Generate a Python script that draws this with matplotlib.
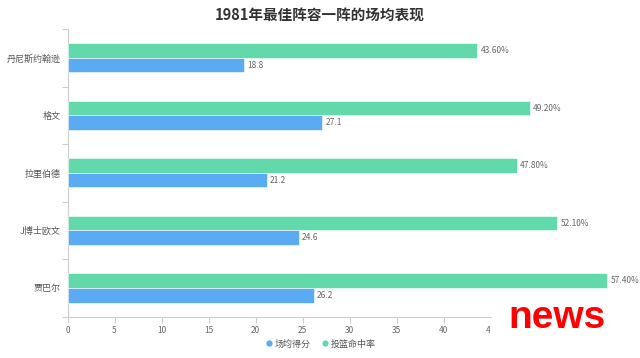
import numpy as np
import matplotlib
matplotlib.use('Agg')
import matplotlib.pyplot as plt
from matplotlib.lines import Line2D
from matplotlib.patches import Rectangle

plt.rcParams['font.family'] = ['Noto Sans CJK SC', 'DejaVu Sans']

# data, bottom to top
players = ['贾巴尔', 'J博士欧文', '拉里伯德', '格文', '丹尼斯约翰逊']
points = [26.2, 24.6, 21.2, 27.1, 18.8]
fg_pct = [57.4, 52.1, 47.8, 49.2, 43.6]
x_ticks = [0, 5, 10, 15, 20, 25, 30, 35, 40, 45]

blue = '#5aabf2'
green = '#62d9aa'
grey = '#666666'

fig = plt.figure(figsize=(6.4, 3.58), dpi=100)
ax = fig.add_axes([67.5/640, 1-316.7/358, (490.5-67.5)/640, (316.7-29)/358])

y = np.arange(len(players))
h = 0.254
ax.barh(y + h/2, fg_pct, height=h, color=green, edgecolor='white', linewidth=0.4, clip_on=False, zorder=3)
ax.barh(y - h/2, points, height=h, color=blue, edgecolor='white', linewidth=0.4, clip_on=False, zorder=3)

for yi, v in zip(y, fg_pct):
    ax.text(v + 0.35, yi + h/2, '%.2f%%' % v, va='center', ha='left', fontsize=6, color=grey, clip_on=False)
for yi, v in zip(y, points):
    ax.text(v + 0.35, yi - h/2, '%.1f' % v, va='center', ha='left', fontsize=6, color=grey, clip_on=False)

ax.set_xlim(0, 45)
ax.set_ylim(-0.5, len(players) - 0.5)
ax.set_xticks(x_ticks)
ax.set_xticklabels([str(t) for t in x_ticks])
ax.set_yticks(y)
ax.set_yticklabels(players)
ax.set_yticks(np.arange(-0.5, len(players)), minor=True)
ax.tick_params(axis='y', which='major', length=0, labelsize=6.5, labelcolor='#555555', pad=5)
ax.tick_params(axis='y', which='minor', length=4, color='#cccccc', width=0.8)
ax.tick_params(axis='x', length=4, color='#cccccc', width=0.8, labelsize=6, labelcolor=grey, pad=3)

for s in ['top', 'right']:
    ax.spines[s].set_visible(False)
for s in ['left', 'bottom']:
    ax.spines[s].set_color('#cccccc')
    ax.spines[s].set_linewidth(0.8)

fig.text(0.5, 1-16/358, '1981年最佳阵容一阵的场均表现', ha='center', va='center',
         fontsize=10.5, fontweight='bold', color='#333333')

handles = [Line2D([], [], marker='o', color='w', markerfacecolor=blue, markersize=5.5, linestyle='None'),
           Line2D([], [], marker='o', color='w', markerfacecolor=green, markersize=5.5, linestyle='None')]
fig.legend(handles, ['场均得分', '投篮命中率'], loc='center', bbox_to_anchor=(0.5, 1-344/358),
           ncol=2, frameon=False, fontsize=6.5, labelcolor='#555555', handletextpad=0.2,
           columnspacing=1.0, handlelength=1.0)

# white patch behind the watermark, it hides the end of the x axis labels
fig.patches.append(Rectangle((489.5/640, 1-338/358), 150/640, 20/358, transform=fig.transFigure,
                             facecolor='white', edgecolor='none', zorder=5))
fig.text(557/640, 1-318/358, 'news', ha='center', va='center', fontsize=28, fontweight='bold',
         color='#ff0000', family=['Liberation Sans', 'DejaVu Sans'], zorder=6)

fig.savefig('out.png', dpi=100)
